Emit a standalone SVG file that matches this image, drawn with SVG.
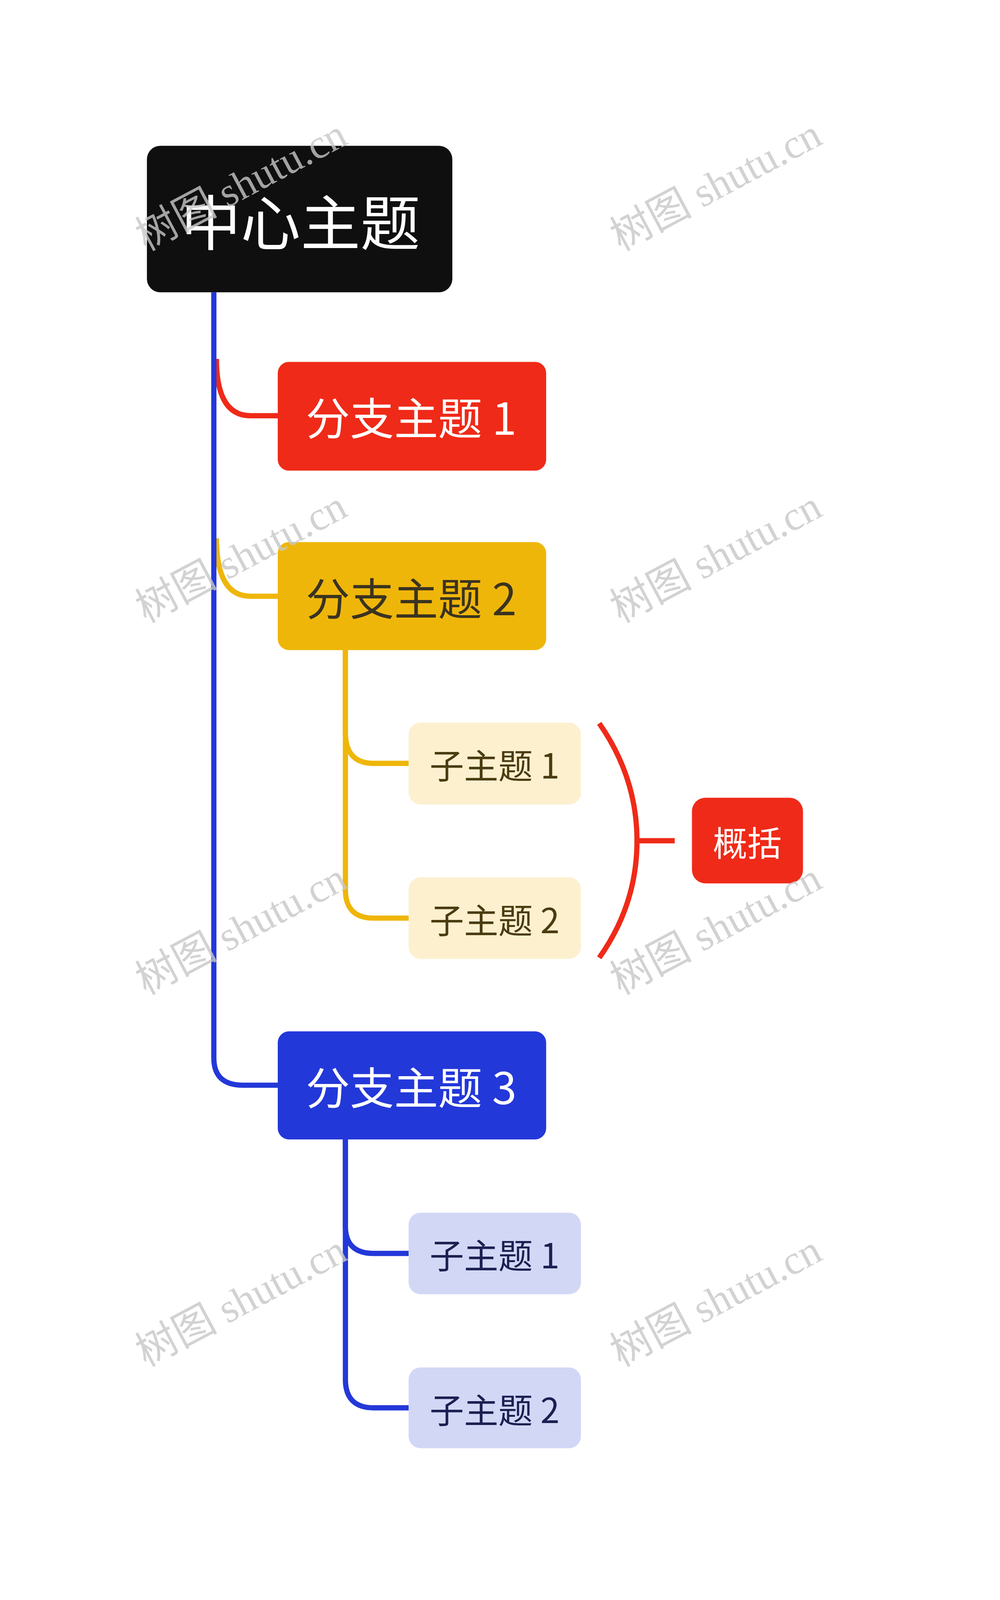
<svg xmlns="http://www.w3.org/2000/svg" width="2560" height="4307" viewBox="0 0 2560 4307">
<style>
text{font-family:"Noto Sans CJK SC","Liberation Sans",sans-serif;dominant-baseline:central;text-anchor:middle}
.wm{fill:#c8c8c8;font-family:"Liberation Serif","Noto Sans CJK SC",serif;font-size:110px;opacity:0.8}
.c{fill:none;stroke-width:14;stroke-linecap:butt}
</style>
<rect width="2560" height="4307" fill="#ffffff"/>
<g id="diagram" transform="scale(0.957)">
<g id="connectors">
<path class="c" stroke="#ef2a18" d="M579 960 Q579 1112 670 1112 L745 1112"/>
<path class="c" stroke="#efb60a" d="M579 1440 Q579 1595 670 1595 L745 1595"/>
<path class="c" stroke="#efb60a" d="M924 1739 L924 1960 Q924 2042 1000 2042 L1096 2042"/>
<path class="c" stroke="#efb60a" d="M924 1739 L924 2380 Q924 2456 1000 2456 L1096 2456"/>
<path class="c" stroke="#2338d8" d="M924 3048 L924 3280 Q924 3353 1000 3353 L1096 3353"/>
<path class="c" stroke="#2338d8" d="M924 3048 L924 3690 Q924 3766 1000 3766 L1096 3766"/>
<path class="c" stroke="#2338d8" d="M572 782 L572 2830 Q572 2903 650 2903 L745 2903"/>
<path class="c" stroke="#ef2a18" stroke-width="9" d="M1603 1935 Q1704 2080 1704 2249 Q1704 2420 1603 2562 M1704 2249 L1805 2249"/>
</g>
<g id="central"><rect x="393" y="390" width="817" height="392" rx="36" fill="#0f0f0f"/><text x="804" y="586" font-size="160" fill="#ffffff">中心主题</text></g>
<g id="branch1"><rect x="743" y="968" width="718" height="291" rx="30" fill="#ef2a18"/><text x="1100" y="1112" font-size="118" fill="#ffffff">分支主题 1</text></g>
<g id="branch2"><rect x="743" y="1450" width="718" height="289" rx="30" fill="#efb60a"/><text x="1100" y="1595" font-size="118" fill="#3a3320">分支主题 2</text></g>
<g id="sub21"><rect x="1093" y="1933" width="461" height="219" rx="32" fill="#fcf0cf"/><text x="1323" y="2042" font-size="92" fill="#4a3c10">子主题 1</text></g>
<g id="sub22"><rect x="1093" y="2347" width="461" height="218" rx="32" fill="#fcf0cf"/><text x="1323" y="2456" font-size="92" fill="#4a3c10">子主题 2</text></g>
<g id="summary"><rect x="1851" y="2134" width="297" height="229" rx="36" fill="#ef2a18"/><text x="1999" y="2249" font-size="92" fill="#ffffff">概括</text></g>
<g id="branch3"><rect x="743" y="2759" width="718" height="289" rx="30" fill="#2338d8"/><text x="1100" y="2903" font-size="118" fill="#ffffff">分支主题 3</text></g>
<g id="sub31"><rect x="1093" y="3244" width="461" height="218" rx="32" fill="#d2d7f6"/><text x="1323" y="3353" font-size="92" fill="#1a2050">子主题 1</text></g>
<g id="sub32"><rect x="1093" y="3658" width="461" height="216" rx="32" fill="#d2d7f6"/><text x="1323" y="3766" font-size="92" fill="#1a2050">子主题 2</text></g>
<g id="watermarks">
<text class="wm" transform="translate(645 495) rotate(-28)">树图 shutu.cn</text>
<text class="wm" transform="translate(1915 495) rotate(-28)">树图 shutu.cn</text>
<text class="wm" transform="translate(645 1490) rotate(-28)">树图 shutu.cn</text>
<text class="wm" transform="translate(1915 1490) rotate(-28)">树图 shutu.cn</text>
<text class="wm" transform="translate(645 2485) rotate(-28)">树图 shutu.cn</text>
<text class="wm" transform="translate(1915 2485) rotate(-28)">树图 shutu.cn</text>
<text class="wm" transform="translate(645 3480) rotate(-28)">树图 shutu.cn</text>
<text class="wm" transform="translate(1915 3480) rotate(-28)">树图 shutu.cn</text>
</g>
</g>
</svg>
